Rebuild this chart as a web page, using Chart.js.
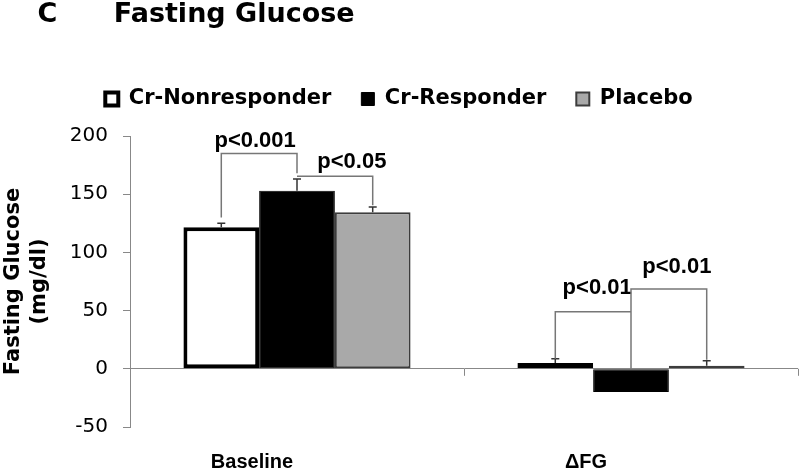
<!DOCTYPE html>
<html>
<head>
<meta charset="utf-8">
<script src="https://cdn.jsdelivr.net/npm/chart.js@4.4.0/dist/chart.umd.min.js"></script>
<style>
  html, body { margin: 0; padding: 0; background: #fff; }
  #wrap { width: 800px; height: 472px; }
</style>
</head>
<body>
<div id="wrap"><canvas id="glucoseChart"></canvas></div>
<script>
// Chart data
const categories = ['Baseline', '\u0394FG'];
const seriesNames = ['Cr-Nonresponder', 'Cr-Responder', 'Placebo'];
const nonresponder = [121.5, 5];
const responder = [153, -20];
const placebo = [134.5, 2.6];
const nonresponderErr = [3.5, 3.6];
const responderErr = [10, null];
const placeboErr = [4.5, 4.3];
const yTicks = [-50, 0, 50, 100, 150, 200];

// significance brackets: category, from/to series, level of the bar, drop ends, label level
const brackets = [
    { cat: 0, from: 0, to: 1, top: 185, leftEnd: 130, rightEnd: 168, label: 'p<0.001', labelAt: 195.5, shift: -4 },
    { cat: 0, from: 1, to: 2, top: 165.5, leftEnd: null, rightEnd: 140.5, label: 'p<0.05', labelAt: 177.5, shift: 17 },
    { cat: 1, from: 0, to: 1, top: 49, leftEnd: 8.6, rightEnd: null, label: 'p<0.01', labelAt: 69.5, shift: 4 },
    { cat: 1, from: 1, to: 2, top: 68.6, leftEnd: 0, rightEnd: 7.7, label: 'p<0.01', labelAt: 87.5, shift: 8 }
];

const errors = [nonresponderErr, responderErr, placeboErr];

Chart.defaults.font.family = '"DejaVu Sans", sans-serif';
Chart.defaults.color = '#000';

// extra room under the legend
const legendSpacer = {
    id: 'legendSpacer',
    beforeInit(chart) {
        const fit = chart.legend.fit;
        chart.legend.fit = function () {
            fit.call(this);
            this.height += 16.5;
        };
    }
};

// error bars, category ticks on the zero line, p-value brackets
const annotate = {
    id: 'annotate',
    afterDatasetsDraw(chart) {
        const { ctx, scales: { x, y } } = chart;
        const barX = (ds, i) => chart.getDatasetMeta(ds).data[i].x;
        ctx.save();

        // category tick marks hanging from the zero line
        const y0 = y.getPixelForValue(0);
        ctx.strokeStyle = '#888';
        ctx.lineWidth = 1;
        const marks = [(x.getPixelForTick(0) + x.getPixelForTick(1)) / 2, x.right - 0.5];
        marks.forEach(px => {
            ctx.beginPath();
            ctx.moveTo(Math.round(px) + 0.5, y0);
            ctx.lineTo(Math.round(px) + 0.5, y0 + 7);
            ctx.stroke();
        });

        // error bars
        ctx.strokeStyle = '#333';
        ctx.lineWidth = 1.5;
        errors.forEach((errs, ds) => errs.forEach((e, i) => {
            if (e == null) return;
            const v = chart.data.datasets[ds].data[i];
            const cx = barX(ds, i);
            const yb = y.getPixelForValue(v);
            const yt = y.getPixelForValue(v + e);
            ctx.beginPath();
            ctx.moveTo(cx, yb);
            ctx.lineTo(cx, yt);
            ctx.moveTo(cx - 4, yt);
            ctx.lineTo(cx + 4, yt);
            ctx.stroke();
        }));

        // brackets
        ctx.strokeStyle = '#777';
        ctx.lineWidth = 1.5;
        ctx.fillStyle = '#000';
        ctx.font = 'bold 22px "Liberation Sans", Arial, sans-serif';
        ctx.textAlign = 'center';
        ctx.textBaseline = 'middle';
        brackets.forEach(b => {
            const xl = barX(b.from, b.cat);
            const xr = barX(b.to, b.cat);
            const yt = y.getPixelForValue(b.top);
            ctx.beginPath();
            if (b.leftEnd != null) {
                ctx.moveTo(xl, y.getPixelForValue(b.leftEnd));
                ctx.lineTo(xl, yt);
            } else {
                ctx.moveTo(xl, yt);
            }
            ctx.lineTo(xr, yt);
            if (b.rightEnd != null) ctx.lineTo(xr, y.getPixelForValue(b.rightEnd));
            ctx.stroke();
            ctx.fillText(b.label, (xl + xr) / 2 + b.shift, y.getPixelForValue(b.labelAt));
        });

        ctx.restore();
    }
};

const ctx = document.getElementById('glucoseChart').getContext('2d');

const glucoseChart = new Chart(ctx, {
    type: 'bar',
    data: {
        labels: categories,
        datasets: [
            {
                label: seriesNames[0],
                data: nonresponder,
                backgroundColor: '#ffffff',
                borderColor: '#000000',
                borderWidth: 4,
                borderSkipped: false
            },
            {
                label: seriesNames[1],
                data: responder,
                backgroundColor: '#000000',
                borderColor: '#000000',
                borderWidth: 1,
                borderSkipped: false
            },
            {
                label: seriesNames[2],
                data: placebo,
                backgroundColor: '#a9a9a9',
                borderColor: '#3c3c3c',
                borderWidth: 2,
                borderSkipped: false
            }
        ]
    },
    options: {
        responsive: true,
        maintainAspectRatio: false,
        animation: false,
        layout: { padding: { left: 0, right: 2, top: 0, bottom: 0 } },
        datasets: {
            bar: { categoryPercentage: 0.68, barPercentage: 1 }
        },
        plugins: {
            title: {
                display: true,
                text: '    C      Fasting Glucose',
                align: 'start',
                color: '#000',
                font: { size: 27, weight: 'bold', lineHeight: 1 },
                padding: { top: 1, bottom: 30.5 }
            },
            legend: {
                position: 'top',
                labels: {
                    boxWidth: 13,
                    boxHeight: 13,
                    padding: 30,
                    color: '#000',
                    font: { size: 21, weight: 'bold' }
                }
            },
            tooltip: { enabled: false }
        },
        scales: {
            x: {
                grid: { display: false, drawTicks: false },
                border: { display: false },
                afterFit: scale => {
                    scale.height = 45;
                },
                ticks: {
                    padding: 25,
                    labelOffset: -45,
                    color: '#000',
                    font: { family: '"Liberation Sans", Arial, sans-serif', size: 20, weight: 'bold', lineHeight: 1 }
                }
            },
            y: {
                min: -50,
                max: 200,
                afterBuildTicks: scale => {
                    scale.ticks = yTicks.map(v => ({ value: v }));
                },
                afterFit: scale => {
                    scale.width = 130;
                },
                border: { display: true, color: '#888', width: 1 },
                grid: {
                    color: c => (c.tick && c.tick.value === 0 ? '#888' : 'rgba(0,0,0,0)'),
                    tickColor: '#888',
                    tickLength: 7,
                    lineWidth: 1
                },
                ticks: {
                    padding: 15,
                    color: '#000',
                    font: { size: 20 }
                },
                title: {
                    display: true,
                    text: ['Fasting Glucose', '(mg/dl)'],
                    color: '#000',
                    font: { size: 21, weight: 'bold', lineHeight: 1.25 },
                    padding: { top: 0, bottom: 0 }
                }
            }
        }
    },
    plugins: [legendSpacer, annotate]
});
</script>
</body>
</html>
